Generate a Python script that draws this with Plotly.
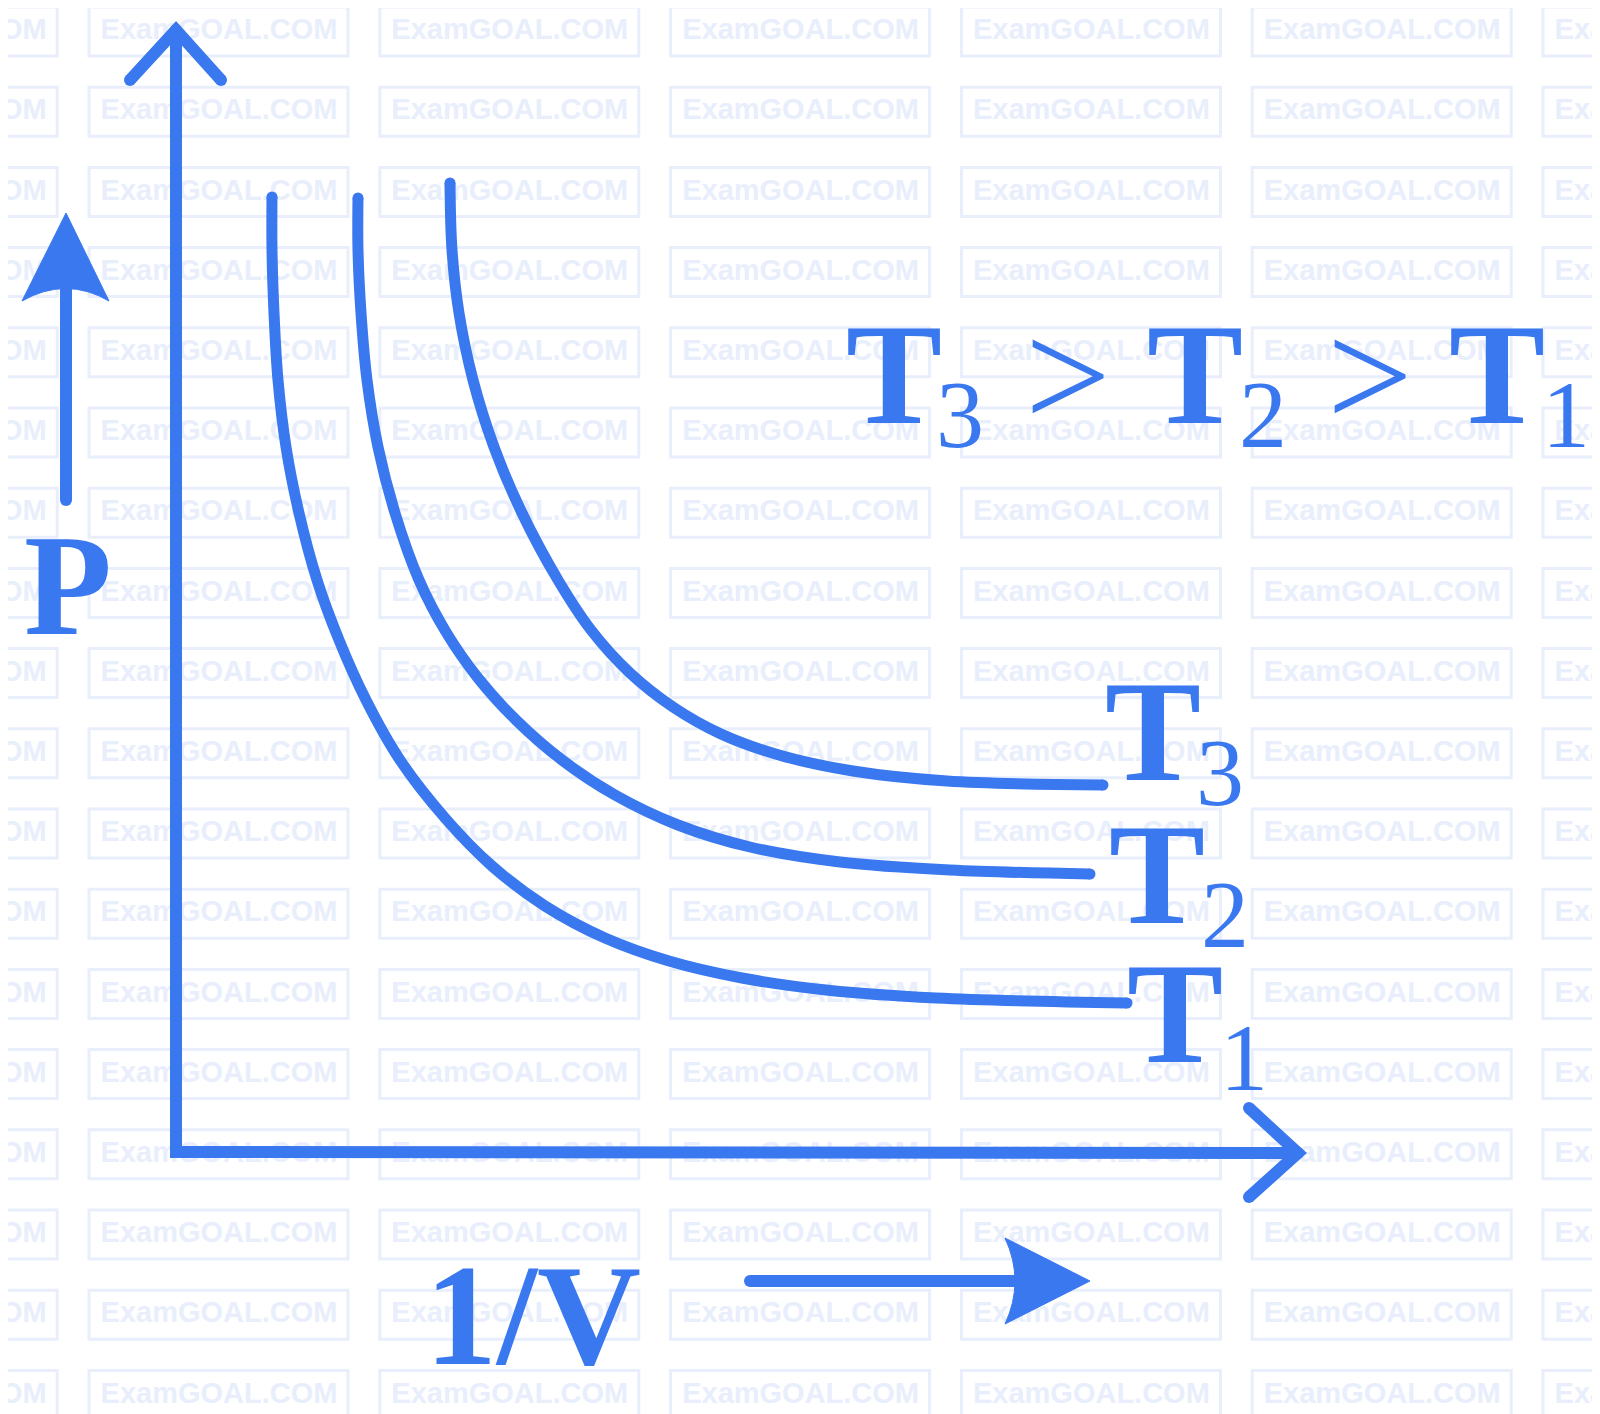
import plotly.graph_objects as go

# ---------------- data (canvas pixel units) ----------------
inv_v_T1 = [272, 272, 274, 278, 286, 299, 317, 339, 366, 400, 445, 492, 545, 605, 669, 742, 826, 936, 1127]
p_T1     = [197, 250, 313, 380, 447, 513, 580, 640, 700, 760, 818, 866, 906, 938, 961, 978, 990, 998, 1003]

inv_v_T2 = [358, 358, 361, 367, 378, 395, 419, 446, 478, 516, 562, 615, 678, 750, 840, 950, 1090]
p_T2     = [198, 250, 313, 380, 447, 513, 580, 632, 678, 720, 760, 795, 825, 847, 862, 870, 874]

inv_v_T3 = [450, 452, 459, 473, 494, 522, 558, 591, 630, 673, 721, 779, 853, 947, 1103]
p_T3     = [183, 250, 313, 380, 447, 513, 580, 630, 673, 707, 734, 755, 771, 781, 785]

curve_subs = ["1", "2", "3"]
order_text = ["T", "3", ">", "T", "2", ">", "T", "1"]
x_label = "1/V"
y_label = "P"
watermark = "ExamGOAL.COM"

# ---------------- style ----------------
BLUE = "#3a78f0"
WM = "#e8eefc"
W, H = 1600, 1414
PAGE = 8          # default page body margin of the html file
LW = 11
SERIF = "Liberation Serif"
BIG = 144
SUB = 96

fig = go.Figure()

# watermark boxes + text (below everything)
wm_x, wm_y = [], []
for j in range(18):
    y0 = 7 + 80.2 * j
    for k in range(-1, 6):
        x0 = 89 + 290.8 * k
        fig.add_shape(type="rect", x0=x0, x1=x0 + 259, y0=y0, y1=y0 + 49,
                      xref="x", yref="y", line=dict(color=WM, width=3), layer="below")
        wm_x.append(x0 + 130)
        wm_y.append(y0 + 25)
fig.add_trace(go.Scatter(x=wm_x, y=wm_y, mode="text", text=[watermark] * len(wm_x),
                         textposition="middle center", hoverinfo="skip",
                         textfont=dict(family="Liberation Sans", size=29, color=WM, weight="bold")))


def poly(xs, ys, width=LW, shape="linear"):
    fig.add_trace(go.Scatter(x=xs, y=ys, mode="lines", hoverinfo="skip",
                             line=dict(color=BLUE, width=width, shape=shape, smoothing=1.0)))
    fig.add_trace(go.Scatter(x=[xs[0], xs[-1]], y=[ys[0], ys[-1]], mode="markers", hoverinfo="skip",
                             marker=dict(color=BLUE, size=width, line=dict(width=0))))


# axes (L shape with open chevrons)
poly([176, 176, 1298], [30, 1152, 1153], width=12)
poly([130, 176, 221], [80, 30, 80], width=12)
poly([1249, 1298, 1249], [1108, 1153, 1197], width=12)

# isotherms
for xs, ys in [(inv_v_T1, p_T1), (inv_v_T2, p_T2), (inv_v_T3, p_T3)]:
    poly(xs, ys, width=LW, shape="spline")

# P arrow
poly([66, 66], [290, 500], width=12)
fig.add_shape(type="path", xref="x", yref="y", path="M 66,213 L 109,301 Q 66,276 22,301 Z",
              fillcolor=BLUE, line=dict(color=BLUE, width=1))
# 1/V arrow
poly([750, 1015], [1281, 1281], width=12)
fig.add_shape(type="path", xref="x", yref="y", path="M 1090,1281 L 1005,1238 Q 1025,1281 1005,1324 Z",
              fillcolor=BLUE, line=dict(color=BLUE, width=1))


def txt(xc, baseline, s, size, bold=False):
    fig.add_annotation(x=xc, y=baseline - 0.3375 * size - 4, text=s, showarrow=False,
                       xref="x", yref="y", xanchor="center", yanchor="middle",
                       font=dict(family=SERIF, size=size, color=BLUE,
                                 weight="bold" if bold else "normal"))


# T3 > T2 > T1
tx = [894, 960, 1068, 1195, 1263, 1370, 1497, 1566]
tb = [427, 451, 431, 427, 451, 431, 427, 451]
for s, xc, bl in zip(order_text, tx, tb):
    if s.isdigit():
        txt(xc, bl, s, SUB)
    elif s == ">":
        txt(xc, bl, s, 152)
    else:
        txt(xc, bl, s, BIG, bold=True)

# curve labels
lab_x = [1175, 1157, 1153]
lab_b = [1066, 927, 784]
sub_x = [1244, 1225, 1220]
sub_b = [1094, 951, 809]
for i in range(3):
    txt(lab_x[i], lab_b[i], "T", BIG, bold=True)
    txt(sub_x[i], sub_b[i], curve_subs[i], SUB)

txt(68, 638, y_label, BIG, bold=True)
txt(533, 1368, x_label, BIG, bold=True)

fig.update_layout(width=W - PAGE, height=H - PAGE, margin=dict(l=0, r=0, t=0, b=0),
                  paper_bgcolor="white", plot_bgcolor="white", showlegend=False,
                  xaxis=dict(range=[PAGE, W], visible=False, fixedrange=True),
                  yaxis=dict(range=[H, PAGE], visible=False, fixedrange=True))
fig.write_html("out.html")
